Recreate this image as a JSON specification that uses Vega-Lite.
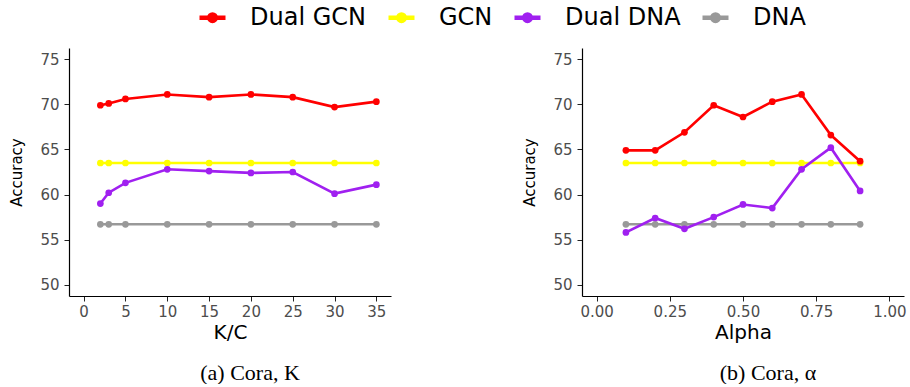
{
  "$schema": "https://vega.github.io/schema/vega-lite/v6.json",
  "autosize": {"type": "pad"},
  "padding": {"left": 9, "top": 2, "right": 0, "bottom": 0},
  "background": "white",
  "bounds": "flush",
  "spacing": 191,
  "config": {
    "view": {"stroke": null},
    "axis": {
      "grid": false,
      "domainColor": "black",
      "domainWidth": 1.2,
      "tickColor": "#222222",
      "tickWidth": 1,
      "tickSize": 5,
      "labelFont": "DejaVu Sans",
      "labelFontSize": 15,
      "labelColor": "#4D4D4D",
      "titleFont": "DejaVu Sans",
      "titleFontWeight": "normal",
      "titleColor": "black"
    },
    "axisX": {"labelPadding": 3, "titleFontSize": 20, "titlePadding": 3},
    "axisY": {"labelPadding": 5, "titleFontSize": 15, "titlePadding": 15}
  },
  "datasets": {
    "acc": [
      {"p": "a", "s": "GCN", "x": 2, "y": 63.5},
      {"p": "a", "s": "GCN", "x": 3, "y": 63.5},
      {"p": "a", "s": "GCN", "x": 5, "y": 63.5},
      {"p": "a", "s": "GCN", "x": 10, "y": 63.5},
      {"p": "a", "s": "GCN", "x": 15, "y": 63.5},
      {"p": "a", "s": "GCN", "x": 20, "y": 63.5},
      {"p": "a", "s": "GCN", "x": 25, "y": 63.5},
      {"p": "a", "s": "GCN", "x": 30, "y": 63.5},
      {"p": "a", "s": "GCN", "x": 35, "y": 63.5},
      {"p": "a", "s": "DNA", "x": 2, "y": 56.7},
      {"p": "a", "s": "DNA", "x": 3, "y": 56.7},
      {"p": "a", "s": "DNA", "x": 5, "y": 56.7},
      {"p": "a", "s": "DNA", "x": 10, "y": 56.7},
      {"p": "a", "s": "DNA", "x": 15, "y": 56.7},
      {"p": "a", "s": "DNA", "x": 20, "y": 56.7},
      {"p": "a", "s": "DNA", "x": 25, "y": 56.7},
      {"p": "a", "s": "DNA", "x": 30, "y": 56.7},
      {"p": "a", "s": "DNA", "x": 35, "y": 56.7},
      {"p": "a", "s": "Dual DNA", "x": 2, "y": 59.0},
      {"p": "a", "s": "Dual DNA", "x": 3, "y": 60.2},
      {"p": "a", "s": "Dual DNA", "x": 5, "y": 61.3},
      {"p": "a", "s": "Dual DNA", "x": 10, "y": 62.8},
      {"p": "a", "s": "Dual DNA", "x": 15, "y": 62.6},
      {"p": "a", "s": "Dual DNA", "x": 20, "y": 62.4},
      {"p": "a", "s": "Dual DNA", "x": 25, "y": 62.5},
      {"p": "a", "s": "Dual DNA", "x": 30, "y": 60.1},
      {"p": "a", "s": "Dual DNA", "x": 35, "y": 61.1},
      {"p": "a", "s": "Dual GCN", "x": 2, "y": 69.9},
      {"p": "a", "s": "Dual GCN", "x": 3, "y": 70.1},
      {"p": "a", "s": "Dual GCN", "x": 5, "y": 70.6},
      {"p": "a", "s": "Dual GCN", "x": 10, "y": 71.1},
      {"p": "a", "s": "Dual GCN", "x": 15, "y": 70.8},
      {"p": "a", "s": "Dual GCN", "x": 20, "y": 71.1},
      {"p": "a", "s": "Dual GCN", "x": 25, "y": 70.8},
      {"p": "a", "s": "Dual GCN", "x": 30, "y": 69.7},
      {"p": "a", "s": "Dual GCN", "x": 35, "y": 70.3},
      {"p": "b", "s": "GCN", "x": 0.1, "y": 63.5},
      {"p": "b", "s": "GCN", "x": 0.2, "y": 63.5},
      {"p": "b", "s": "GCN", "x": 0.3, "y": 63.5},
      {"p": "b", "s": "GCN", "x": 0.4, "y": 63.5},
      {"p": "b", "s": "GCN", "x": 0.5, "y": 63.5},
      {"p": "b", "s": "GCN", "x": 0.6, "y": 63.5},
      {"p": "b", "s": "GCN", "x": 0.7, "y": 63.5},
      {"p": "b", "s": "GCN", "x": 0.8, "y": 63.5},
      {"p": "b", "s": "GCN", "x": 0.9, "y": 63.5},
      {"p": "b", "s": "DNA", "x": 0.1, "y": 56.7},
      {"p": "b", "s": "DNA", "x": 0.2, "y": 56.7},
      {"p": "b", "s": "DNA", "x": 0.3, "y": 56.7},
      {"p": "b", "s": "DNA", "x": 0.4, "y": 56.7},
      {"p": "b", "s": "DNA", "x": 0.5, "y": 56.7},
      {"p": "b", "s": "DNA", "x": 0.6, "y": 56.7},
      {"p": "b", "s": "DNA", "x": 0.7, "y": 56.7},
      {"p": "b", "s": "DNA", "x": 0.8, "y": 56.7},
      {"p": "b", "s": "DNA", "x": 0.9, "y": 56.7},
      {"p": "b", "s": "Dual DNA", "x": 0.1, "y": 55.8},
      {"p": "b", "s": "Dual DNA", "x": 0.2, "y": 57.4},
      {"p": "b", "s": "Dual DNA", "x": 0.3, "y": 56.2},
      {"p": "b", "s": "Dual DNA", "x": 0.4, "y": 57.5},
      {"p": "b", "s": "Dual DNA", "x": 0.5, "y": 58.9},
      {"p": "b", "s": "Dual DNA", "x": 0.6, "y": 58.5},
      {"p": "b", "s": "Dual DNA", "x": 0.7, "y": 62.8},
      {"p": "b", "s": "Dual DNA", "x": 0.8, "y": 65.2},
      {"p": "b", "s": "Dual DNA", "x": 0.9, "y": 60.4},
      {"p": "b", "s": "Dual GCN", "x": 0.1, "y": 64.9},
      {"p": "b", "s": "Dual GCN", "x": 0.2, "y": 64.9},
      {"p": "b", "s": "Dual GCN", "x": 0.3, "y": 66.9},
      {"p": "b", "s": "Dual GCN", "x": 0.4, "y": 69.9},
      {"p": "b", "s": "Dual GCN", "x": 0.5, "y": 68.6},
      {"p": "b", "s": "Dual GCN", "x": 0.6, "y": 70.3},
      {"p": "b", "s": "Dual GCN", "x": 0.7, "y": 71.1},
      {"p": "b", "s": "Dual GCN", "x": 0.8, "y": 66.6},
      {"p": "b", "s": "Dual GCN", "x": 0.9, "y": 63.7}
    ]
  },
  "resolve": {"scale": {"color": "shared"}},
  "hconcat": [
    {
      "width": 322,
      "height": 248,
      "data": {"name": "acc"},
      "transform": [{"filter": "datum.p === 'a'"}],
      "title": {"text": "(a) Cora, K", "orient": "bottom", "anchor": "middle", "font": "Liberation Serif", "fontSize": 22, "fontWeight": "normal", "color": "black", "offset": 21, "dx": 20},
      "encoding": {
        "x": {"field": "x", "type": "quantitative", "title": "K/C", "scale": {"domain": [-1.75, 36.75], "nice": false, "zero": false}, "axis": {"values": [0, 5, 10, 15, 20, 25, 30, 35]}},
        "y": {"field": "y", "type": "quantitative", "title": "Accuracy", "scale": {"domain": [48.75, 76.25], "nice": false, "zero": false}, "axis": {"values": [50, 55, 60, 65, 70, 75]}},
        "color": {
          "field": "s", "type": "nominal",
          "scale": {"domain": ["Dual GCN", "GCN", "Dual DNA", "DNA"], "range": ["#FF0000", "#FFFF00", "#A020F0", "#999999"]},
          "legend": {
            "title": null, "orient": "none", "direction": "horizontal", "legendX": 128, "legendY": -46,
            "padding": 0, "labelFont": "DejaVu Sans", "labelFontSize": 24, "labelColor": "black",
            "symbolType": "M-1,0L1,0M0.25,0A0.25,0.25,0,1,1,-0.25,0A0.25,0.25,0,1,1,0.25,0",
            "symbolSize": 676, "symbolStrokeWidth": 4.5, "labelOffset": 22, "columnPadding": 12,
            "encode": {"symbols": {"update": {"fill": {"scale": "color", "field": "value"}, "stroke": {"scale": "color", "field": "value"}, "opacity": {"value": 1}}}}
          }
        }
      },
      "layer": [
        {"mark": {"type": "line", "strokeWidth": 2.6}},
        {"mark": {"type": "point", "filled": true, "size": 45, "opacity": 1}}
      ]
    },
    {
      "width": 322,
      "height": 248,
      "data": {"name": "acc"},
      "transform": [{"filter": "datum.p === 'b'"}],
      "title": {"text": "(b) Cora, α", "orient": "bottom", "anchor": "middle", "font": "Liberation Serif", "fontSize": 22, "fontWeight": "normal", "color": "black", "offset": 21, "dx": 25},
      "encoding": {
        "x": {"field": "x", "type": "quantitative", "title": "Alpha", "scale": {"domain": [-0.05, 1.05], "nice": false, "zero": false}, "axis": {"values": [0, 0.25, 0.5, 0.75, 1], "format": ".2f"}},
        "y": {"field": "y", "type": "quantitative", "title": "Accuracy", "scale": {"domain": [48.75, 76.25], "nice": false, "zero": false}, "axis": {"values": [50, 55, 60, 65, 70, 75]}},
        "color": {"field": "s", "type": "nominal"}
      },
      "layer": [
        {"mark": {"type": "line", "strokeWidth": 2.6}},
        {"mark": {"type": "point", "filled": true, "size": 45, "opacity": 1}}
      ]
    }
  ]
}
